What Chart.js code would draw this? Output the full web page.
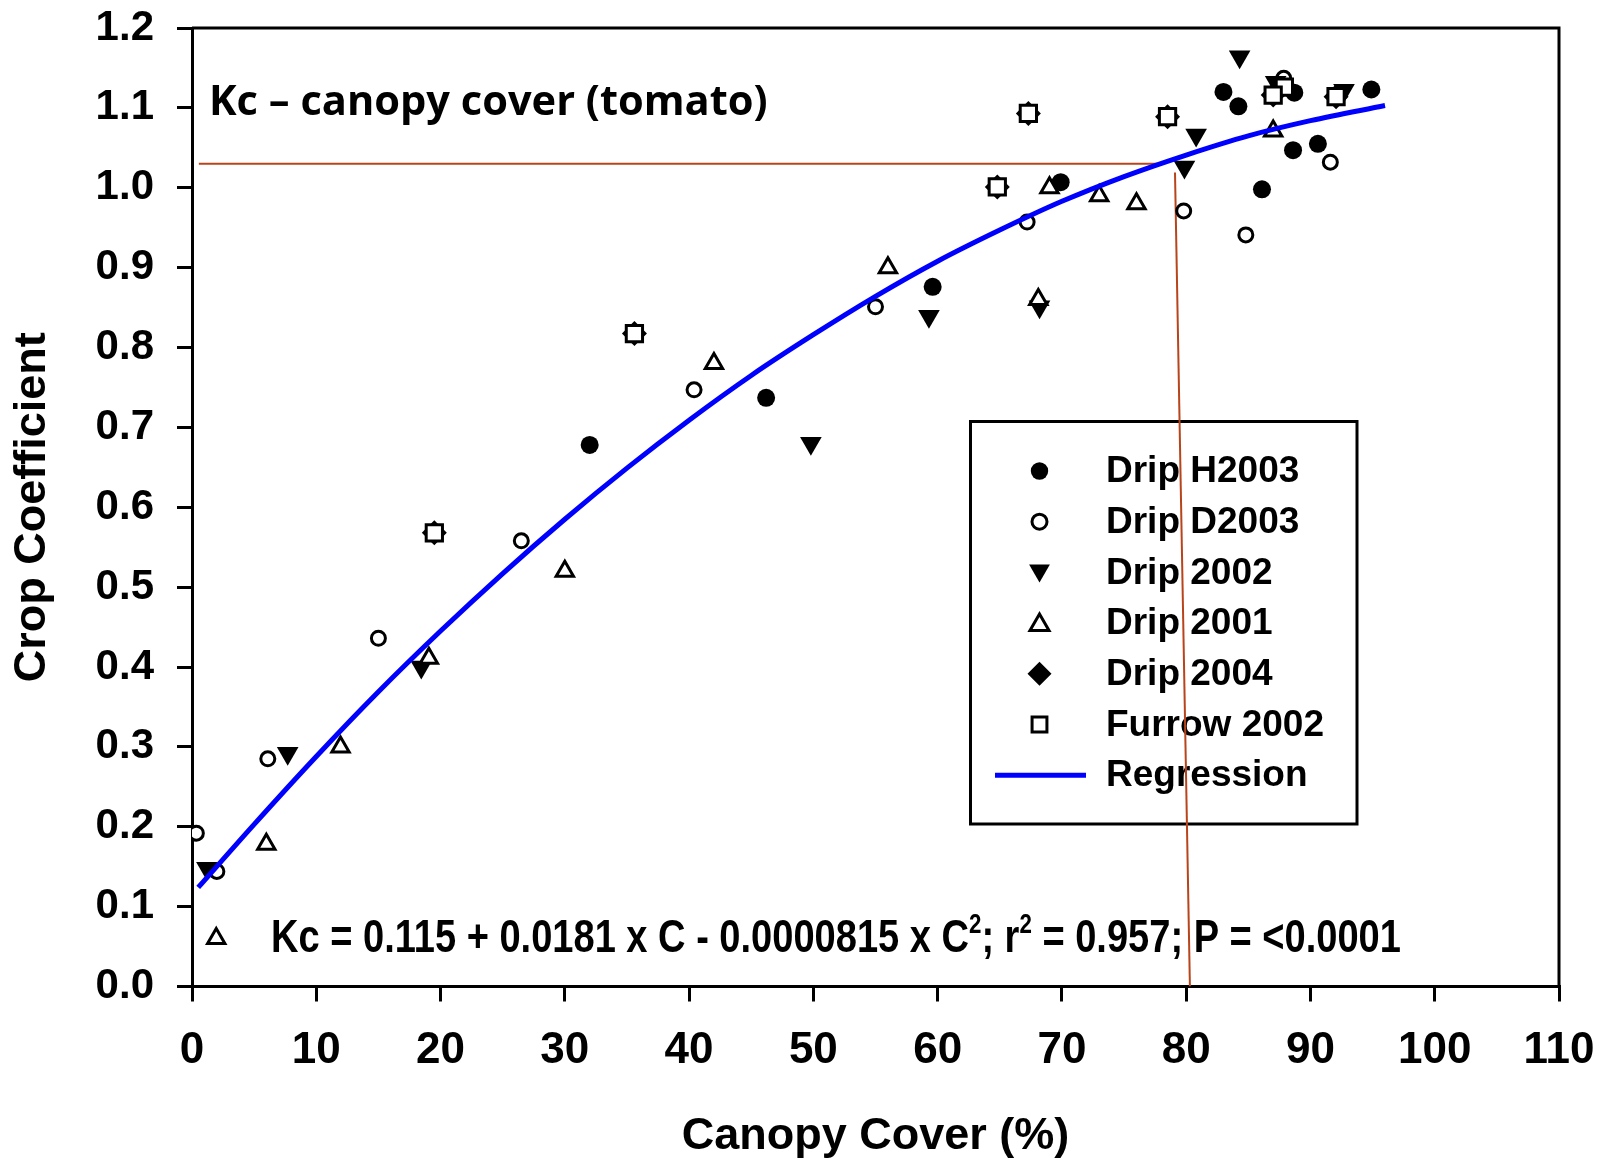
<!DOCTYPE html>
<html lang="en">
<head>
<meta charset="UTF-8">
<title>Kc - canopy cover (tomato)</title>
<script src="https://cdn.jsdelivr.net/npm/chart.js"></script>
<style>
  html, body { margin: 0; padding: 0; background: #fff; }
  canvas { display: block; }
</style>
</head>
<body>
<canvas id="chart" width="1603" height="1162"></canvas>
<script>
// values: canopy cover (%) -> crop coefficient
const dripH2003Cover = [32.0, 46.2, 59.6, 69.9, 83.0, 84.2, 86.1, 88.6, 88.7, 90.6, 94.9];
const dripH2003Kc    = [0.678, 0.737, 0.876, 1.007, 1.120, 1.102, 0.998, 1.047, 1.119, 1.055, 1.123];

const dripD2003Cover = [0.35, 2.0, 6.1, 15.0, 26.5, 40.4, 55.0, 67.2, 79.8, 84.8, 87.85, 91.6];
const dripD2003Kc    = [0.192, 0.144, 0.285, 0.436, 0.558, 0.747, 0.851, 0.957, 0.971, 0.941, 1.137, 1.032];

const drip2002Cover = [1.2, 7.7, 18.45, 49.8, 59.3, 68.2, 79.86, 80.8, 84.3, 87.2, 92.7];
const drip2002Kc    = [0.148, 0.292, 0.400, 0.680, 0.839, 0.851, 1.026, 1.066, 1.164, 1.132, 1.122];

const drip2001Cover = [1.95, 5.98, 11.95, 19.06, 30.0, 42.0, 56.0, 68.1, 69.0, 73.0, 76.0, 87.0];
const drip2001Kc    = [0.060, 0.178, 0.300, 0.411, 0.520, 0.780, 0.900, 0.860, 1.000, 0.990, 0.980, 1.071];

const drip2004Cover = [19.5, 35.6, 64.8, 67.3, 78.5, 87.0, 92.06];
const drip2004Kc    = [0.568, 0.8175, 1.001, 1.093, 1.089, 1.116, 1.114];

const furrow2002Cover = [19.5, 35.6, 64.8, 67.3, 78.5, 87.9, 87.0, 92.06];
const furrow2002Kc    = [0.568, 0.8175, 1.001, 1.093, 1.089, 1.126, 1.116, 1.114];

// fitted curve
const regressionCover = [0.5, 5, 10, 15, 20, 25, 30, 35, 40, 45, 50, 55, 60, 65, 70, 75, 80, 85, 90, 96];
const regressionKc    = [0.124, 0.203, 0.288, 0.369, 0.445, 0.517, 0.585, 0.649, 0.709, 0.765, 0.816, 0.864, 0.908, 0.947, 0.983, 1.014, 1.041, 1.065, 1.084, 1.103];

// brown guide lines (Kc ~ 1.03 at ~80 % cover)
const guideHCover = [0.55, 77.7];
const guideHKc    = [1.030, 1.030];
const guideVCover = [79.1, 80.3];
const guideVKc    = [1.019, 0.0];

const xTicks = [0, 10, 20, 30, 40, 50, 60, 70, 80, 90, 100, 110];
const yTicks = [0.0, 0.1, 0.2, 0.3, 0.4, 0.5, 0.6, 0.7, 0.8, 0.9, 1.0, 1.1, 1.2];

const titleText = 'Kc \u2013 canopy cover (tomato)';
const equationParts = [
  ['Kc = 0.115 + 0.0181 x C - 0.0000815 x C', false],
  ['2', true],
  ['; r', false],
  ['2', true],
  [' = 0.957; P = <0.0001', false]
];

const FONT = "'Liberation Sans', Arial, sans-serif";

function pts(xs, ys) {
  return xs.map((x, i) => ({ x: x, y: ys[i] }));
}

const datasets = [
  { label: 'Drip H2003', data: pts(dripH2003Cover, dripH2003Kc), pointStyle: 'circle',
    pointRadius: 9, pointBackgroundColor: '#000', pointBorderColor: '#000', pointBorderWidth: 0, order: 9 },
  { label: 'Drip D2003', data: pts(dripD2003Cover, dripD2003Kc), pointStyle: 'circle',
    pointRadius: 7, pointBackgroundColor: '#fff', pointBorderColor: '#000', pointBorderWidth: 3, order: 8 },
  { label: 'Drip 2002', data: pts(drip2002Cover, drip2002Kc), pointStyle: 'triangle', pointRotation: 180,
    pointRadius: 12.5, pointBackgroundColor: '#000', pointBorderColor: '#000', pointBorderWidth: 0, order: 7 },
  { label: 'Drip 2001', data: pts(drip2001Cover, drip2001Kc), pointStyle: 'triangle',
    pointRadius: 10, pointBackgroundColor: '#fff', pointBorderColor: '#000', pointBorderWidth: 3, order: 6 },
  { label: 'Drip 2004', data: pts(drip2004Cover, drip2004Kc), pointStyle: 'rectRot',
    pointRadius: 12.5, pointBackgroundColor: '#000', pointBorderColor: '#000', pointBorderWidth: 0, order: 5 },
  { label: 'Furrow 2002', data: pts(furrow2002Cover, furrow2002Kc), pointStyle: 'rect',
    pointRadius: 11.5, pointBackgroundColor: '#fff', pointBorderColor: '#000', pointBorderWidth: 3, order: 4 },
  { label: 'Regression', data: pts(regressionCover, regressionKc), showLine: true, pointRadius: 0,
    borderColor: '#0000ff', borderWidth: 5, cubicInterpolationMode: 'monotone', order: 0 },
  { label: '', data: pts(guideHCover, guideHKc), showLine: true, pointRadius: 0,
    borderColor: '#b8441c', borderWidth: 2, order: 20 },
  { label: '', data: pts(guideVCover, guideVKc), showLine: true, pointRadius: 0,
    borderColor: '#b8441c', borderWidth: 2, order: 20 }
];

// top and right sides of the frame
const framePlugin = {
  id: 'frame',
  beforeDatasetsDraw(chart) {
    const { ctx, chartArea: a } = chart;
    ctx.save();
    ctx.strokeStyle = '#000';
    ctx.lineWidth = 3;
    ctx.beginPath();
    ctx.moveTo(a.left, a.top);
    ctx.lineTo(a.right, a.top);
    ctx.lineTo(a.right, a.bottom);
    ctx.stroke();
    ctx.restore();
  }
};

// boxed legend inside the plot
const boxLegendPlugin = {
  id: 'boxLegend',
  beforeDatasetsDraw(chart) {
    const { ctx } = chart;
    const box = { left: 970.5, top: 421.5, right: 1357, bottom: 824 };
    const rowTop = 471, rowStep = 50.7, markX = 1039.5, textX = 1106;
    ctx.save();
    ctx.strokeStyle = '#000';
    ctx.lineWidth = 3;
    ctx.strokeRect(box.left, box.top, box.right - box.left, box.bottom - box.top);
    ctx.font = 'bold 37px ' + FONT;
    ctx.textBaseline = 'middle';
    ctx.textAlign = 'left';
    chart.data.datasets.filter(d => d.label).forEach((d, i) => {
      const y = rowTop + i * rowStep;
      if (d.showLine) {
        ctx.strokeStyle = d.borderColor;
        ctx.lineWidth = d.borderWidth;
        ctx.beginPath();
        ctx.moveTo(995, y);
        ctx.lineTo(1086, y);
        ctx.stroke();
      } else {
        ctx.fillStyle = d.pointBackgroundColor;
        ctx.strokeStyle = d.pointBorderColor;
        ctx.lineWidth = d.pointBorderWidth;
        let r = d.pointRadius;
        if (d.pointStyle === 'rect') r = 10.5;
        if (d.pointStyle === 'rectRot') r = 12;
        if (d.pointStyle === 'triangle') r = d.pointRotation ? 12 : 11;
        if (d.pointStyle === 'circle') r = d.pointBorderWidth ? 7.5 : 8.7;
        Chart.helpers.drawPoint(ctx, {
          pointStyle: d.pointStyle, radius: r, rotation: d.pointRotation || 0,
          borderWidth: d.pointBorderWidth
        }, markX, d.pointStyle === 'triangle' ? y + (d.pointRotation ? -2 : 2) : y);
      }
      ctx.fillStyle = '#000';
      ctx.fillText(d.label, textX, y + 1);
    });
    ctx.restore();
  }
};

// annotation texts
const notesPlugin = {
  id: 'notes',
  afterDraw(chart) {
    const { ctx } = chart;
    ctx.save();
    ctx.fillStyle = '#000';
    ctx.textBaseline = 'alphabetic';
    ctx.textAlign = 'left';
    ctx.font = "bold 41.6px 'Open Sans', 'Noto Sans', sans-serif";
    ctx.fillText(titleText, 209, 115);

    ctx.translate(271, 952);
    ctx.scale(0.827, 1);
    let x = 0;
    equationParts.forEach(([t, sup]) => {
      ctx.font = sup ? 'bold 27px ' + FONT : 'bold 46px ' + FONT;
      ctx.fillText(t, x, sup ? -19 : 0);
      x += ctx.measureText(t).width;
    });
    ctx.restore();
  }
};

new Chart(document.getElementById('chart'), {
  type: 'scatter',
  data: { datasets: datasets },
  plugins: [framePlugin, boxLegendPlugin, notesPlugin],
  options: {
    responsive: false,
    animation: false,
    layout: { padding: { top: 28, right: 44, left: 0, bottom: 0 } },
    plugins: { legend: { display: false }, tooltip: { enabled: false } },
    scales: {
      x: {
        type: 'linear', min: 0, max: 110,
        afterBuildTicks: s => { s.ticks = xTicks.map(v => ({ value: v })); },
        afterFit: s => { s.height = 175.5; s.paddingLeft = 0; s.paddingRight = 0; },
        ticks: { color: '#000', padding: 23, font: { family: FONT, size: 44, weight: 'bold' } },
        grid: { drawOnChartArea: false, color: '#000', lineWidth: 3, tickLength: 15 },
        border: { color: '#000', width: 3 },
        title: { display: true, text: 'Canopy Cover (%)', color: '#000', padding: 0,
                 font: { family: FONT, size: 45, weight: 'bold', lineHeight: 1.15 } }
      },
      y: {
        type: 'linear', min: 0, max: 1.2,
        afterBuildTicks: s => { s.ticks = yTicks.map(v => ({ value: v })); },
        afterFit: s => { s.width = 192; s.paddingTop = 0; s.paddingBottom = 0; },
        ticks: { color: '#000', padding: 23, callback: v => v.toFixed(1),
                 font: { family: FONT, size: 42, weight: 'bold' } },
        grid: { drawOnChartArea: false, color: '#000', lineWidth: 3, tickLength: 15 },
        border: { color: '#000', width: 3 },
        title: { display: true, text: 'Crop Coefficient', color: '#000', padding: { top: 6, bottom: 0 },
                 font: { family: FONT, size: 45, weight: 'bold', lineHeight: 1.2 } }
      }
    }
  }
});
</script>
</body>
</html>
